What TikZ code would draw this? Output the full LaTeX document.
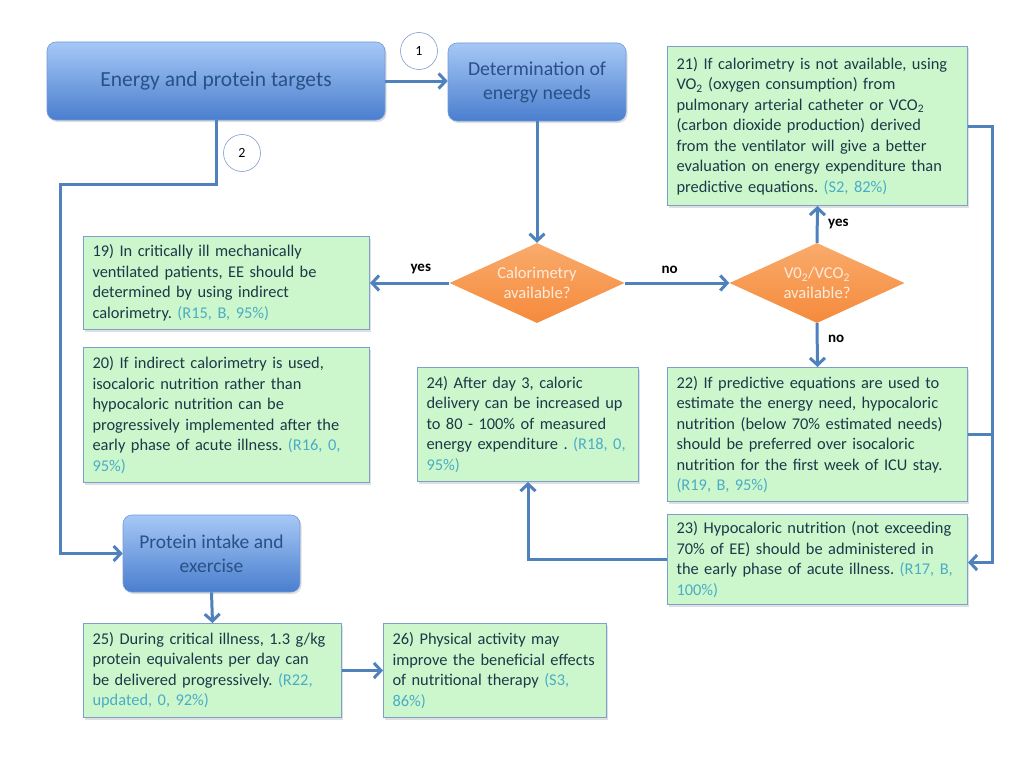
\documentclass[tikz,border=0pt]{standalone}
\usepackage{fontspec}
\setmainfont{Carlito}
\usetikzlibrary{shapes.geometric,arrows.meta,shadows}

\definecolor{linkblue}{HTML}{4F81BD}
\definecolor{topblue}{HTML}{A6C8F6}
\definecolor{botblue}{HTML}{4A7ECE}
\definecolor{edgeblue}{HTML}{6F9BD8}
\definecolor{titleblue}{HTML}{2A5185}
\definecolor{advfill}{HTML}{CCF7CC}
\definecolor{advedge}{HTML}{7F9FCF}
\definecolor{advtext}{HTML}{1D3848}
\definecolor{cite}{HTML}{4BACC6}
\definecolor{toporange}{HTML}{F9AB6C}
\definecolor{botorange}{HTML}{F58A3B}
\definecolor{peach}{HTML}{FDEBDC}

\newcommand{\src}[1]{{\color{cite}#1}}
\frenchspacing

\begin{document}
\begin{tikzpicture}[x=1pt, y=-1pt,
  target/.style={rounded corners=9pt, top color=topblue, bottom color=botblue,
    draw=edgeblue, line width=0.6pt, text=titleblue, align=center,
    drop shadow={opacity=0.25, shadow xshift=1.5pt, shadow yshift=-2pt}},
  advice/.style={draw=advedge, fill=advfill, line width=1pt, text=advtext,
    anchor=north west, align=left, inner xsep=9pt, inner ysep=0pt,
    text width=#1, font=\fontsize{16.4}{20.5}\selectfont,
    drop shadow={opacity=0.25, shadow xshift=1.5pt, shadow yshift=-2pt}},
  decision/.style={diamond, aspect=2.2, inner sep=0pt, minimum width=175pt,
    minimum height=80pt, top color=toporange, bottom color=botorange,
    text=peach, align=center, font=\fontsize{16.6}{20.5}\selectfont},
  marker/.style={circle, draw=advedge, fill=white, line width=0.6pt,
    minimum size=37pt, inner sep=0pt, font=\fontsize{14}{16}\selectfont},
  answer/.style={font=\bfseries\fontsize{15}{17}\selectfont, text=black},
  link/.style={draw=linkblue, line width=3pt},
  flow/.style={link, -{Straight Barb[length=7pt,width=15pt]}}]

\useasboundingbox[fill=white] (0,0) rectangle (1024,768);

% Targets
\node[target, minimum width=338pt, minimum height=78pt,
  font=\fontsize{21.5}{26}\selectfont] (tgt) at (216,81) {Energy and protein targets};
\node[target, minimum width=178pt, minimum height=78pt,
  font=\fontsize{19.8}{24}\selectfont] (need) at (537,82) {Determination of\\energy needs};
\node[target, minimum width=177pt, minimum height=77pt,
  font=\fontsize{19.5}{24}\selectfont] (prot) at (211.5,553.5) {Protein intake and\\exercise};

\node[marker] (one) at (419,51) {1};
\node[marker] (two) at (242,153) {2};

% Decisions
\node[decision] (cal) at (537,283) {Calorimetry\\available?};
\node[decision] (vo) at (817,283) {V0\textsubscript{2}/VCO\textsubscript{2}\\available?};

% Recommendations
\node[advice=282pt, minimum height=159pt] (r21) at (667,46) {21) If calorimetry is not available, using\\
VO\textsubscript{2} (oxygen consumption) from\\
pulmonary arterial catheter or VCO\textsubscript{2}\\
(carbon dioxide production) derived\\
from the ventilator will give a better\\
evaluation on energy expenditure than\\
predictive equations. \src{(S2, 82\%)}};

\node[advice=268pt, minimum height=93pt] (r19) at (83,236) {19) In critically ill mechanically\\
ventilated patients, EE should be\\
determined by using indirect\\
calorimetry. \src{(R15, B, 95\%)}};

\node[advice=268pt, minimum height=135pt] (r20) at (83,347) {20) If indirect calorimetry is used,\\
isocaloric nutrition rather than\\
hypocaloric nutrition can be\\
progressively implemented after the\\
early phase of acute illness. \src{(R16, 0,}\\
\src{95\%)}};

\node[advice=203pt, minimum height=114pt] (r24) at (417,367) {24) After day 3, caloric\\
delivery can be increased up\\
to 80 - 100\% of measured\\
energy expenditure . \src{(R18, 0,}\\
\src{95\%)}};

\node[advice=282pt, minimum height=134pt] (r22) at (667,367) {22) If predictive equations are used to\\
estimate the energy need, hypocaloric\\
nutrition (below 70\% estimated needs)\\
should be preferred over isocaloric\\
nutrition for the first week of ICU stay.\\
\src{(R19, B, 95\%)}};

\node[advice=282pt, minimum height=90pt] (r23) at (667,514) {23) Hypocaloric nutrition (not exceeding\\
70\% of EE) should be administered in\\
the early phase of acute illness. \src{(R17, B,}\\
\src{100\%)}};

\node[advice=240pt, minimum height=94pt] (r25) at (83,623) {25) During critical illness, 1.3 g/kg\\
protein equivalents per day can\\
be delivered progressively. \src{(R22,}\\
\src{updated, 0, 92\%)}};

\node[advice=205pt, minimum height=94pt] (r26) at (383,623) {26) Physical activity may\\
improve the beneficial effects\\
of nutritional therapy \src{(S3,}\\
\src{86\%)}};

% Connectors
\coordinate (left) at (60,184);
\coordinate (right) at (992,0);

\draw[flow] (tgt.east) -- (tgt.east -| need.west);
\draw[flow] (need.south) -- (cal.north);
\draw[flow] (tgt.south) |- (left) |- (prot.west);
\draw[flow] (cal.west) -- node[answer, pos=0.36, above=4pt] (y1) {yes} (cal.west -| r19.east);
\draw[flow] (cal.east) -- node[answer, pos=0.43, above=5pt] (n1) {no} (vo.west);
\draw[flow] (vo.north) -- node[answer, right=6pt] (y2) {yes} (r21.south);
\draw[flow] (vo.south) -- node[answer, pos=0.35, right=6pt] (n2) {no} (r22.north);
\draw[flow] (r21.east) -- (r21.east -| right) |- ([yshift=-3pt]r23.east);
\draw[link] (r22.east) -- (r22.east -| right);
\draw[flow] (r23.west) -| (r24.south);
\draw[flow] (prot.south) -- (r25.north);
\draw[flow] (r25.east) -- (r25.east -| r26.west);

\end{tikzpicture}
\end{document}
